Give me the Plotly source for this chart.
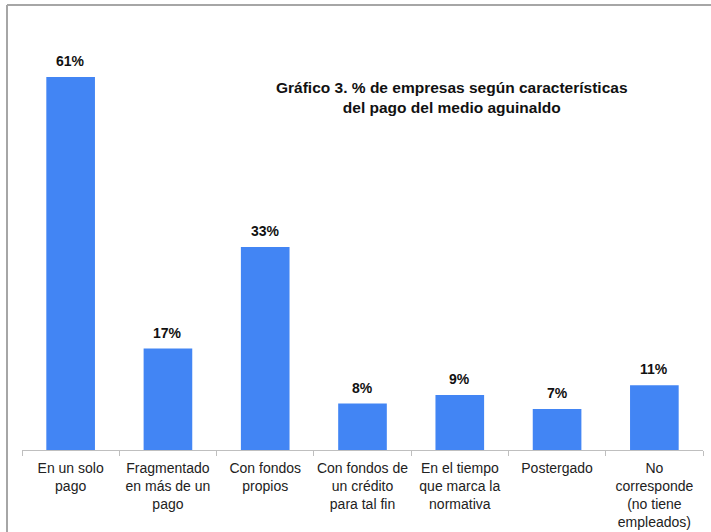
import plotly.graph_objects as go

categories = [
    "En un solo<br>pago",
    "Fragmentado<br>en más de un<br>pago",
    "Con fondos<br>propios",
    "Con fondos de<br>un crédito<br>para tal fin",
    "En el tiempo<br>que marca la<br>normativa",
    "Postergado",
    "No<br>corresponde<br>(no tiene<br>empleados)",
]
values = [61, 16.6, 33.2, 7.6, 9.0, 6.7, 10.6]
labels = [f"{round(v)}%" for v in values]

FONT = "Liberation Sans, Arial, sans-serif"
W, H = 711, 532
ml, mr, mt, mb = 22, 8, 22, 82
pw, ph = W - ml - mr, H - mt - mb

fig = go.Figure(go.Bar(
    x=categories, y=values,
    marker=dict(color="#4285F4", line=dict(width=0)),
))

annotations = [
    dict(x=c, y=v, text=f"<b>{t}</b>", xref="x", yref="y",
         showarrow=False, xanchor="center", yanchor="bottom", yshift=6,
         font=dict(family=FONT, size=14, color="#111111"))
    for c, v, t in zip(categories, values, labels)
]
annotations.append(dict(
    text="<b>Gráfico 3. % de empresas según características<br>del pago del medio aguinaldo</b>",
    xref="paper", yref="paper",
    x=(452 - ml) / pw, y=(450 - 97) / ph,
    xanchor="center", yanchor="middle", showarrow=False,
    font=dict(family=FONT, size=15.5, color="#111111"),
))

border = "#A6A6A6"
fig.update_layout(
    width=W, height=H,
    margin=dict(l=ml, r=mr, t=mt, b=mb, autoexpand=False),
    paper_bgcolor="white", plot_bgcolor="white",
    bargap=0.5, showlegend=False,
    font=dict(family=FONT, size=14, color="#222222"),
    xaxis=dict(
        showline=True, linecolor="#BFBFBF", linewidth=1,
        ticks="outside", tickson="boundaries", ticklen=5, tickcolor="#BFBFBF",
        tickangle=0, tickfont=dict(family=FONT, size=14, color="#222222"),
        ticklabelstandoff=5, automargin=False,
        showgrid=False,
    ),
    yaxis=dict(range=[0, 70], visible=False, showgrid=False, zeroline=False,
               automargin=False),
    annotations=annotations,
    shapes=[
        dict(type="line", xref="paper", yref="paper",
             x0=(7 - ml) / pw, x1=(7 - ml) / pw,
             y0=(450 - 540) / ph, y1=(450 - 5) / ph,
             line=dict(color=border, width=2)),
        dict(type="line", xref="paper", yref="paper",
             x0=(7 - ml) / pw, x1=(720 - ml) / pw,
             y0=(450 - 5) / ph, y1=(450 - 5) / ph,
             line=dict(color=border, width=2)),
    ],
)

fig.write_html("out.html")
